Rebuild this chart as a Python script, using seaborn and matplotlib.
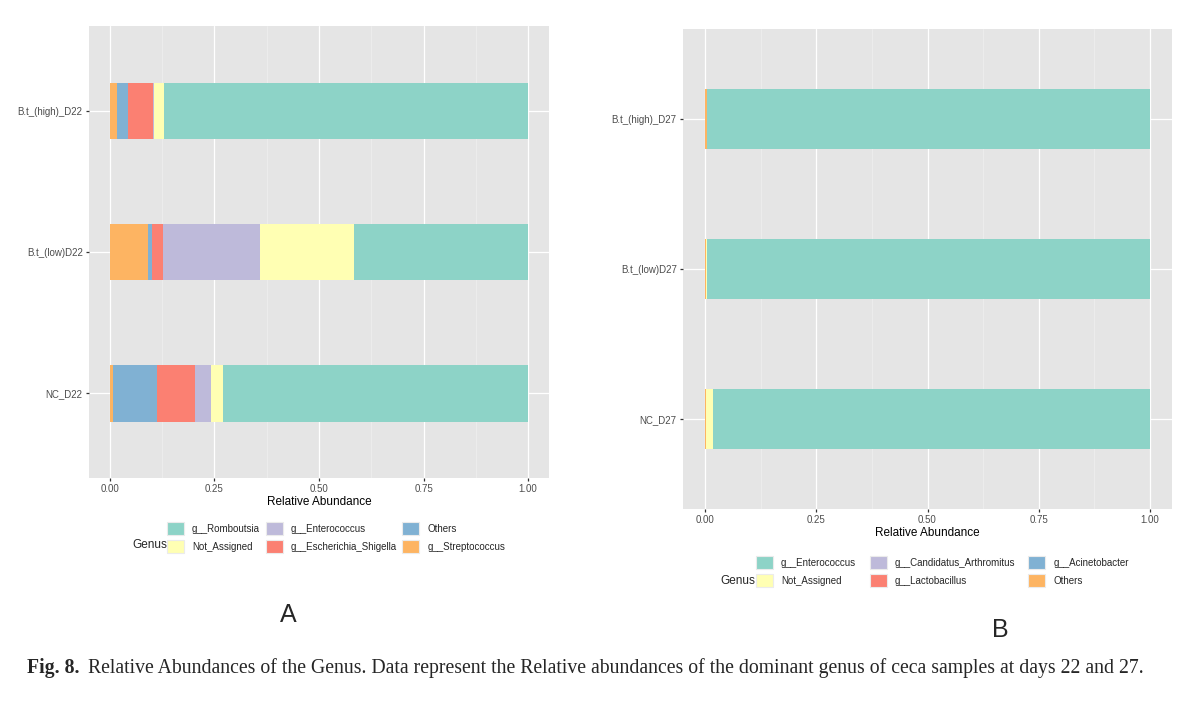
import numpy as np
import pandas as pd
from matplotlib import pyplot as plt
from matplotlib.patches import Patch
from matplotlib.ticker import MultipleLocator
import seaborn as sns

# ---- data ----
samples_a = ['B.t_(high)_D22', 'B.t_(low)D22', 'NC_D22']
genus_a = ['g__Romboutsia', 'Not_Assigned', 'g__Enterococcus',
           'g__Escherichia_Shigella', 'Others', 'g__Streptococcus']
romboutsia_a = [0.871, 0.416, 0.729]
not_assigned_a = [0.023, 0.224, 0.030]
enterococcus_a = [0.002, 0.233, 0.038]
escherichia_a = [0.061, 0.026, 0.091]
others_a = [0.027, 0.011, 0.105]
streptococcus_a = [0.016, 0.090, 0.007]

samples_b = ['B.t_(high)_D27', 'B.t_(low)D27', 'NC_D27']
genus_b = ['g__Enterococcus', 'Not_Assigned', 'g__Candidatus_Arthromitus',
           'g__Lactobacillus', 'g__Acinetobacter', 'Others']
enterococcus_b = [0.995, 0.996, 0.983]
not_assigned_b = [0.002, 0.002, 0.016]
candidatus_b = [0.0, 0.0, 0.0]
lactobacillus_b = [0.0, 0.0, 0.0]
acinetobacter_b = [0.0, 0.0, 0.0]
others_b = [0.003, 0.002, 0.001]

# Set3 colours, in legend order
palette = ['#8DD3C7', '#FFFFB3', '#BEBADA', '#FB8072', '#80B1D3', '#FDB462']

sns.set_style('darkgrid', {'axes.facecolor': '#E5E5E5', 'grid.color': 'white',
                           'xtick.bottom': True, 'ytick.left': True})
plt.rcParams['font.family'] = ['Liberation Sans', 'DejaVu Sans']


def stacked_bars(ax, samples, genera, series):
    df = pd.DataFrame(series, index=genera, columns=samples)
    # draw from the full bar down to the leftmost segment, each one on top
    for i, g in enumerate(genera):
        cum = df.iloc[i:].sum(axis=0)
        layer = pd.DataFrame({'Sample': samples, 'cum': cum.values})
        sns.barplot(data=layer, x='cum', y='Sample', order=samples, orient='h',
                    color=palette[i], saturation=1, width=0.4, linewidth=0,
                    ax=ax)
    ax.set_xlim(-0.05, 1.05)
    ax.set_ylim(2.6, -0.6)
    ax.set_xticks([0, 0.25, 0.5, 0.75, 1.0])
    ax.set_xticklabels(['0.00', '0.25', '0.50', '0.75', '1.00'])
    ax.xaxis.set_minor_locator(MultipleLocator(0.125))
    ax.grid(True, which='major', color='white', linewidth=0.9)
    ax.grid(True, which='minor', axis='x', color='#F0F0F0', linewidth=0.5)
    ax.set_axisbelow(True)
    for s in ax.spines.values():
        s.set_visible(False)
    ax.tick_params(axis='both', which='major', bottom=True, left=True,
                   length=2.5, width=0.9, color='#333333',
                   labelcolor='#4D4D4D', labelsize=7, pad=2)
    ax.tick_params(axis='x', which='minor', length=0)
    ax.set_xlabel('Relative Abundance', fontsize=8.5, color='black', labelpad=1)
    ax.set_ylabel('')


def genus_legend(fig, genera, x, y, title_x, title_y, colspace):
    handles = [Patch(facecolor=palette[i], edgecolor='#EBEBEB', linewidth=0.8)
               for i in range(len(genera))]
    fig.legend(handles, genera, loc='upper left',
               bbox_to_anchor=(x / 1200, 1 - y / 702), ncol=3, frameon=False,
               fontsize=7, handlelength=1.75, handleheight=1.75,
               handletextpad=0.8, columnspacing=colspace, labelspacing=0.45,
               borderpad=0, borderaxespad=0)
    fig.text(title_x / 1200, 1 - title_y / 702, 'Genus', fontsize=8.5,
             ha='left', va='center')


fig = plt.figure(figsize=(12, 7.02), dpi=100)
ax_a = fig.add_axes([89 / 1200, 1 - 478 / 702, 460 / 1200, 452 / 702])
ax_b = fig.add_axes([683 / 1200, 1 - 509 / 702, 489 / 1200, 480 / 702])

stacked_bars(ax_a, samples_a, genus_a,
             [romboutsia_a, not_assigned_a, enterococcus_a,
              escherichia_a, others_a, streptococcus_a])
stacked_bars(ax_b, samples_b, genus_b,
             [enterococcus_b, not_assigned_b, candidatus_b,
              lactobacillus_b, acinetobacter_b, others_b])

genus_legend(fig, genus_a, 167, 522, 132, 545, 0.6)
genus_legend(fig, genus_b, 756, 556, 720, 581, 1.4)

fig.text(288 / 1200, 1 - 615 / 702, 'A', fontsize=18, ha='center', va='center')
fig.text(1000 / 1200, 1 - 630 / 702, 'B', fontsize=18, ha='center', va='center')

# caption: bold figure number followed by regular text
renderer = fig.canvas.get_renderer()
cap_y = 1 - 668 / 702
t1 = fig.text(27 / 1200, cap_y, 'Fig. 8.', fontsize=14.2, fontweight='bold',
              family='Liberation Serif', ha='left', va='center')
bb = t1.get_window_extent(renderer)
fig.text((bb.x1 + 9) / 1200, cap_y,
         'Relative Abundances of the Genus. Data represent the Relative abundances '
         'of the dominant genus of ceca samples at days 22 and 27.',
         fontsize=14.2, family='Liberation Serif', ha='left', va='center')

fig.savefig('out.png', dpi=100)
